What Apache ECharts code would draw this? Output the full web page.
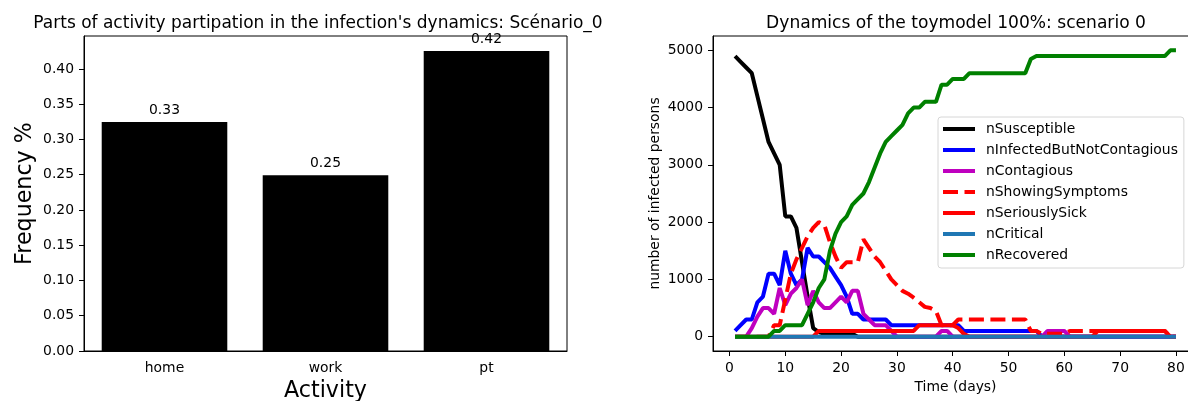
<!DOCTYPE html>
<html>
<head>
<meta charset="utf-8">
<script src="https://cdn.jsdelivr.net/npm/echarts@6/dist/echarts.min.js"></script>
<style>
html, body { margin: 0; padding: 0; background: #fff; }
#chart { width: 1188px; height: 401px; }
</style>
</head>
<body>
<div id="chart"></div>
<script>
// left panel: share of each activity
var activities = ['home', 'work', 'pt'];
var frequencies = [0.3246, 0.2494, 0.4254];
var freqLabels = ['0.33', '0.25', '0.42'];
var freqTicks = [0, 0.05, 0.10, 0.15, 0.20, 0.25, 0.30, 0.35, 0.40];

// right panel: toymodel dynamics, one value per day
var days = [1,2,3,4,5,6,7,8,9,10,11,12,13,14,15,16,17,18,19,20,
  21,22,23,24,25,26,27,28,29,30,31,32,33,34,35,36,37,38,39,40,
  41,42,43,44,45,46,47,48,49,50,51,52,53,54,55,56,57,58,59,60,
  61,62,63,64,65,66,67,68,69,70,71,72,73,74,75,76,77,78,79,80];
var nSusceptible = [4900,4800,4700,4600,4200,3800,3400,3200,3000,2100,
  2100,1900,1300,700,150,80,50,50,50,50,
  50,50,0,0,0,0,0,0,0,0, 0,0,0,0,0,0,0,0,0,0,
  0,0,0,0,0,0,0,0,0,0, 0,0,0,0,0,0,0,0,0,0,
  0,0,0,0,0,0,0,0,0,0, 0,0,0,0,0,0,0,0,0,0];
var nInfectedButNotContagious = [100,200,300,300,600,700,1100,1100,900,1500,
  1100,900,1000,1550,1400,1400,1300,1200,1050,900,
  700,400,400,300,300,300,300,300,200,200,
  200,200,200,200,200,200,200,200,200,200,
  200,100,100,100,100,100,100,100,100,100,
  100,100,100,100,100,0,0,0,0,0,
  0,0,0,0,0,0,0,0,0,0, 0,0,0,0,0,0,0,0,0,0];
var nContagious = [0,0,0,150,350,500,500,400,850,550,
  750,850,1000,550,800,600,500,500,600,700,
  600,800,800,400,300,200,200,200,100,0,
  0,0,0,0,0,0,0,100,100,0,
  0,0,0,0,0,0,0,0,0,0, 0,0,0,0,0,0,100,100,100,100,
  0,0,0,0,0,0,0,0,0,0, 0,0,0,0,0,0,0,0,0,0];
var nShowingSymptoms = [0,0,0,0,0,0,0,200,200,650,
  1100,1350,1550,1750,1900,2000,1950,1650,1400,1200,
  1300,1300,1300,1700,1550,1400,1300,1150,1000,900,
  800,750,680,600,520,500,450,200,200,200,
  300,300,300,300,300,300,300,300,300,300,
  300,300,300,100,100,50,50,50,50,50,
  100,100,100,100,100,100,100,100,100,100,
  100,100,100,100,100,100,100,100,0,0];
var nSeriouslySick = [0,0,0,0,0,0,0,0,0,0, 0,0,0,0,0,100,100,100,100,100,
  100,100,100,100,100,100,100,100,100,100,
  100,100,100,200,200,200,200,200,200,200,
  150,50,0,0,0,0,0,0,0,0, 0,0,0,0,0,0,0,0,0,0,
  0,0,0,0,0,100,100,100,100,100, 100,100,100,100,100,100,100,100,0,0];
var nCritical = [0,0,0,0,0,0,0,0,0,0, 0,0,0,0,0,0,0,0,0,0,
  0,0,0,0,0,0,0,0,0,0, 0,0,0,0,0,0,0,0,0,0,
  0,0,0,0,0,0,0,0,0,0, 0,0,0,0,0,0,0,0,0,0,
  0,0,0,0,0,0,0,0,0,0, 0,0,0,0,0,0,0,0,0,0];
var nRecovered = [0,0,0,0,0,0,0,100,100,200,
  200,200,200,400,600,850,1000,1500,1800,2000,
  2100,2300,2400,2500,2700,2950,3200,3400,3500,3600,
  3700,3900,4000,4000,4100,4100,4100,4400,4400,4500,
  4500,4500,4600,4600,4600,4600,4600,4600,4600,4600,
  4600,4600,4600,4850,4900,4900,4900,4900,4900,4900,
  4900,4900,4900,4900,4900,4900,4900,4900,4900,4900,
  4900,4900,4900,4900,4900,4900,4900,4900,5000,5000];
var timeTicks = [0, 10, 20, 30, 40, 50, 60, 70, 80];
var personTicks = [0, 1000, 2000, 3000, 4000, 5000];

var font = 'DejaVu Sans';
// legend handles drawn as flat bars (solid) or two dashes (dashed)
var solidIcon = 'path://M0,0h32v4h-32z';
var dashedIcon = 'path://M0,0h15v4h-15z M21.5,0h10.5v4h-10.5z';

function pairs(values) {
  var out = [];
  for (var i = 0; i < days.length; i++) out.push([days[i], values[i]]);
  return out;
}

function lineSeries(name, values, color, dashed) {
  return {
    name: name,
    type: 'line',
    xAxisIndex: 1,
    yAxisIndex: 1,
    data: pairs(values),
    symbol: 'none',
    showSymbol: false,
    lineStyle: { color: color, width: 4, type: dashed ? [15, 6.5] : 'solid', cap: 'butt' },
    itemStyle: { color: color }
  };
}

var axisLineStyle = { show: true, onZero: false, lineStyle: { color: '#000', width: 1 } };
var tickLabel = { color: '#000', fontSize: 13.9, fontFamily: font, margin: 10 };
var plainNumber = function (v) { return String(v); };

var myChart = echarts.init(document.getElementById('chart'));
var option = {
  animation: false,
  textStyle: { fontFamily: font },
  title: [
    {
      text: "Parts of activity partipation in the infection's dynamics: Scénario_0",
      left: 313, top: 10, textAlign: 'center',
      textStyle: { fontSize: 17, fontWeight: 'normal', color: '#000', fontFamily: font }
    },
    {
      text: 'Dynamics of the toymodel 100%: scenario 0',
      left: 951, top: 10, textAlign: 'center',
      textStyle: { fontSize: 17.1, fontWeight: 'normal', color: '#000', fontFamily: font }
    }
  ],
  legend: {
    orient: 'vertical',
    left: 938, top: 117,
    data: [
      { name: 'nSusceptible', icon: solidIcon },
      { name: 'nInfectedButNotContagious', icon: solidIcon },
      { name: 'nContagious', icon: solidIcon },
      { name: 'nShowingSymptoms', icon: dashedIcon },
      { name: 'nSeriouslySick', icon: solidIcon },
      { name: 'nCritical', icon: solidIcon },
      { name: 'nRecovered', icon: solidIcon }
    ],
    itemWidth: 32, itemHeight: 4, itemGap: 7,
    itemStyle: { borderWidth: 0 },
    padding: [5, 6, 6, 5],
    backgroundColor: '#fff',
    borderColor: '#d6d6d6', borderWidth: 1, borderRadius: 3,
    textStyle: { fontSize: 13.9, color: '#000', fontFamily: font, lineHeight: 14, padding: [0, 0, 0, 6] }
  },
  grid: [
    { left: 84, top: 36, width: 483, height: 315, outerBoundsMode: 'none',
      show: true, borderColor: '#000', borderWidth: 1 },
    { left: 713, top: 36, width: 485, height: 315, outerBoundsMode: 'none',
      show: true, borderColor: '#000', borderWidth: 1 }
  ],
  xAxis: [
    {
      gridIndex: 0, type: 'category', data: activities,
      axisLine: axisLineStyle,
      axisTick: { alignWithLabel: true, length: 5, lineStyle: { color: '#000' } },
      axisLabel: tickLabel,
      name: 'Activity', nameLocation: 'middle', nameGap: 27,
      nameTextStyle: { fontSize: 22.2, color: '#000', fontFamily: font }
    },
    {
      gridIndex: 1, type: 'value', min: -2.95, max: 83.95,
      axisLine: axisLineStyle,
      axisTick: { customValues: timeTicks, length: 5, lineStyle: { color: '#000' } },
      axisLabel: Object.assign({ customValues: timeTicks, formatter: plainNumber }, tickLabel),
      splitLine: { show: false },
      name: 'Time (days)', nameLocation: 'middle', nameGap: 27,
      nameTextStyle: { fontSize: 13.9, color: '#000', fontFamily: font }
    }
  ],
  yAxis: [
    {
      gridIndex: 0, type: 'value', min: 0, max: 0.4467,
      axisLine: axisLineStyle,
      axisTick: { show: true, customValues: freqTicks, length: 5, lineStyle: { color: '#000' } },
      axisLabel: Object.assign({
        customValues: freqTicks,
        formatter: function (v) { return v.toFixed(2); }
      }, tickLabel),
      splitLine: { show: false },
      name: 'Frequency %', nameLocation: 'middle', nameGap: 48,
      nameTextStyle: { fontSize: 22.2, color: '#000', fontFamily: font }
    },
    {
      gridIndex: 1, type: 'value', min: -250, max: 5250,
      axisLine: axisLineStyle,
      axisTick: { show: true, customValues: personTicks, length: 5, lineStyle: { color: '#000' } },
      axisLabel: Object.assign({ customValues: personTicks, formatter: plainNumber }, tickLabel),
      splitLine: { show: false },
      name: 'number of infected persons', nameLocation: 'middle', nameGap: 51,
      nameTextStyle: { fontSize: 13.9, color: '#000', fontFamily: font }
    }
  ],
  series: [
    {
      name: 'Activity share',
      type: 'bar',
      xAxisIndex: 0, yAxisIndex: 0,
      data: frequencies,
      barWidth: '78%',
      itemStyle: { color: '#000' },
      label: {
        show: true, position: 'top', distance: 5, color: '#000',
        fontSize: 13.9, fontFamily: font,
        formatter: function (p) { return freqLabels[p.dataIndex]; }
      }
    },
    lineSeries('nSusceptible', nSusceptible, '#000000', false),
    lineSeries('nInfectedButNotContagious', nInfectedButNotContagious, '#0000ff', false),
    lineSeries('nContagious', nContagious, '#bf00bf', false),
    lineSeries('nShowingSymptoms', nShowingSymptoms, '#ff0000', true),
    lineSeries('nSeriouslySick', nSeriouslySick, '#ff0000', false),
    lineSeries('nCritical', nCritical, '#1f77b4', false),
    lineSeries('nRecovered', nRecovered, '#008000', false)
  ]
};
myChart.setOption(option);
</script>
</body>
</html>
